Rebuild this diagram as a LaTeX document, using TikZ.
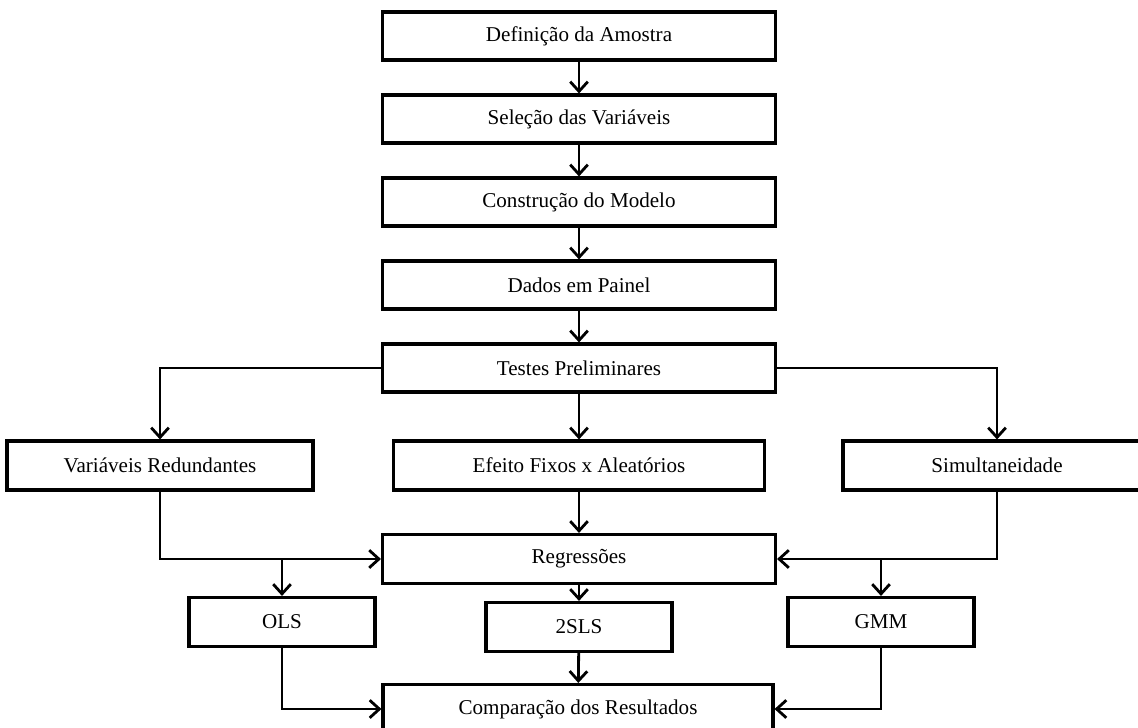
\documentclass[tikz,border=0pt]{standalone}
\usepackage{fontspec}
\setmainfont{Liberation Serif}
\usepackage{tikz}
\usetikzlibrary{arrows.meta,positioning}
\tikzset{
  passo/.style={ draw, line width=1.8pt, minimum width=7.86cm, minimum height=0.96cm, inner sep=0pt }
}
\tikzset{
  ramo/.style={ draw, line width=1.8pt, minimum height=0.98cm, inner sep=0pt }
}
\tikzset{
  metodo/.style={ draw, line width=1.8pt, minimum width=3.72cm, minimum height=0.98cm, inner sep=0pt }
}
\tikzset{
  seta/.style={ line width=1.6pt, -{Straight Barb[length=5.5pt, width=10pt]} }
}

\begin{document}
\begin{tikzpicture}[x=0.02cm, y=-0.02cm, font=\fontsize{12}{14}\selectfont]
      \useasboundingbox (0,0) rectangle (1138,727);
      \clip (0,0) rectangle (1138,727);
      % coluna principal
      \node[passo] (amostra) at (579, 36) {Definição da Amostra};
      \node[passo] (selecao) at (579, 119) {Seleção das Variáveis};
      \node[passo] (modelo) at (579, 202) {Construção do Modelo};
      \node[passo] (painel) at (579, 285) {Dados em Painel};
      \node[passo] (testes) at (579, 368) {Testes Preliminares};
      % testes
      \node[ramo, minimum width=6.12cm] (redund) at (160, 465.5) {Variáveis Redundantes};
      \node[ramo, minimum width=7.42cm] (efeito) at (579, 465.5) {Efeito Fixos x Aleatórios};
      \node[ramo, minimum width=6.16cm] (simult) at (997, 465.5) {Simultaneidade};
      \node[passo, minimum height=0.98cm] (regress) at (579, 559) {Regressões};
      % metodos
      \node[metodo] (ols) at (282, 622) {OLS};
      \node[metodo] (sls) at (579, 627) {2SLS};
      \node[metodo] (gmm) at (881, 622) {GMM};
      \node[passo, minimum width=7.8cm, minimum height=0.98cm] (comp) at (578, 709) {Comparação dos Resultados};
      \draw[seta] (amostra) -- (selecao);
      \draw[seta] (selecao) -- (modelo);
      \draw[seta] (modelo) -- (painel);
      \draw[seta] (painel) -- (testes);
      \draw[seta] (testes.west) -| (redund.north);
      \draw[seta] (testes) -- (efeito);
      \draw[seta] (testes.east) -| (simult.north);
      \draw[seta] (redund.south) |- (regress.west);
      \draw[seta] (efeito) -- (regress);
      \draw[seta] (simult.south) |- (regress.east);
      \draw[seta] (ols.north |- regress.west) -- (ols.north);
      \draw[seta] (regress) -- (sls);
      \draw[seta] (gmm.north |- regress.east) -- (gmm.north);
      \draw[seta] (ols.south) |- (comp.west);
      \draw[seta] (sls) -- (comp);
      \draw[seta] (gmm.south) |- (comp.east);
    \end{tikzpicture}
\end{document}
